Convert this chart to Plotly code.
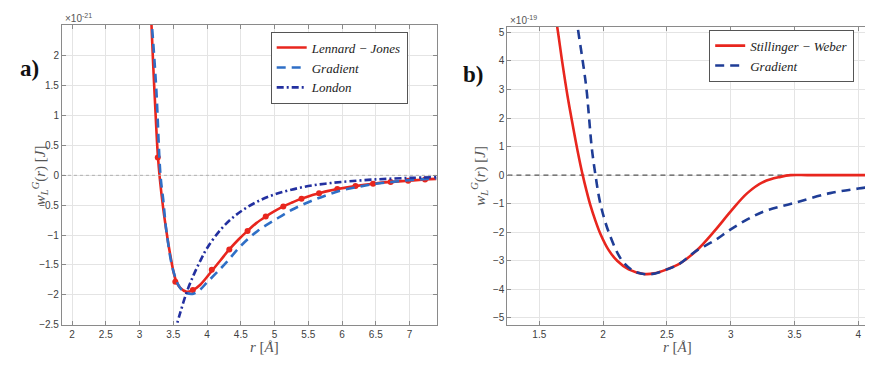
import plotly.graph_objects as go

# ---------------- Panel a) data (units of 1e-21 J) ----------------
lj_r = [3.17, 3.20, 3.23, 3.27, 3.30, 3.35, 3.40, 3.45, 3.53, 3.60, 3.70, 3.79, 3.90,
        4.07, 4.20, 4.33, 4.47, 4.60, 4.73, 4.87, 5.00, 5.13, 5.27, 5.40, 5.53, 5.66,
        5.80, 5.93, 6.20, 6.46, 6.72, 6.98, 7.23, 7.40]
lj_w = [2.70, 1.90, 1.20, 0.35, -0.05, -0.55, -0.95, -1.30, -1.73, -1.88, -1.95, -1.92, -1.83,
        -1.60, -1.42, -1.24, -1.07, -0.93, -0.80, -0.69, -0.60, -0.52, -0.45, -0.39, -0.34, -0.30,
        -0.26, -0.23, -0.18, -0.14, -0.11, -0.09, -0.07, -0.06]
ljm_r = [3.27, 3.53, 3.79, 4.07, 4.33, 4.60, 4.87, 5.13, 5.40, 5.66, 5.93, 6.20, 6.46, 6.72, 6.98, 7.23]
ljm_w = [0.30, -1.78, -1.92, -1.58, -1.24, -0.93, -0.69, -0.52, -0.39, -0.30, -0.23, -0.18, -0.14, -0.11, -0.09, -0.07]

gra_r = [3.17, 3.21, 3.25, 3.31, 3.35, 3.40, 3.50, 3.60, 3.70, 3.80, 3.90, 4.00, 4.15,
         4.30, 4.50, 4.75, 5.00, 5.25, 5.50, 5.75, 6.00, 6.25, 6.50, 6.75, 7.00, 7.40]
gra_w = [2.70, 2.10, 1.40, 0.00, -0.40, -0.95, -1.60, -1.88, -1.97, -1.98, -1.91, -1.79, -1.62,
         -1.44, -1.18, -0.93, -0.75, -0.58, -0.45, -0.34, -0.25, -0.19, -0.14, -0.11, -0.08, -0.05]

lon_r = [3.52, 3.60, 3.70, 3.80, 3.90, 4.00, 4.20, 4.40, 4.60, 4.80, 5.00, 5.25, 5.50,
         5.75, 6.00, 6.50, 7.00, 7.40]
lon_w = [-2.63, -2.31, -1.95, -1.67, -1.43, -1.22, -0.91, -0.69, -0.53, -0.41, -0.32, -0.24, -0.18,
         -0.14, -0.11, -0.068, -0.043, -0.031]

# ---------------- Panel b) data (units of 1e-19 J) ----------------
sw_r = [1.62, 1.64, 1.68, 1.72, 1.76, 1.80, 1.84, 1.87, 1.90, 1.94, 1.98, 2.04, 2.11, 2.20,
        2.32, 2.40, 2.50, 2.60, 2.73, 2.87, 3.00, 3.13, 3.26, 3.39, 3.47, 3.60, 3.80, 4.20]
sw_w = [5.70, 5.20, 3.95, 2.80, 1.80, 0.85, 0.00, -0.55, -1.05, -1.60, -2.07, -2.60, -3.00, -3.30,
        -3.46, -3.44, -3.30, -3.10, -2.65, -1.97, -1.27, -0.63, -0.23, -0.06, 0.00, 0.00, 0.00, 0.00]

gb_r = [1.79, 1.80, 1.84, 1.87, 1.89, 1.91, 1.94, 1.98, 2.05, 2.15, 2.25, 2.37, 2.50, 2.60,
        2.73, 2.87, 3.00, 3.13, 3.26, 3.50, 3.78, 4.00, 4.20]
gb_w = [5.60, 5.20, 4.00, 3.00, 2.00, 1.00, 0.00, -1.03, -2.07, -3.00, -3.38, -3.47, -3.30, -3.10,
        -2.65, -2.30, -1.90, -1.55, -1.27, -0.97, -0.63, -0.47, -0.36]

xa_ticks = [2, 2.5, 3, 3.5, 4, 4.5, 5, 5.5, 6, 6.5, 7]
ya_ticks = [-2.5, -2, -1.5, -1, -0.5, 0, 0.5, 1, 1.5, 2]
xb_ticks = [1.5, 2, 2.5, 3, 3.5, 4]
yb_ticks = [-5, -4, -3, -2, -1, 0, 1, 2, 3, 4, 5]

W, H = 873, 368
RED = "#e8261e"
BLUE_A = "#2f6fc6"
NAVY = "#2330a0"
BLUE_B = "#1f3d96"
SERIF = "Liberation Serif"
SANS = "Liberation Sans"

fig = go.Figure()

# panel a
fig.add_trace(go.Scatter(x=lj_r, y=lj_w, mode="lines", name="Lennard − Jones",
                         line=dict(color=RED, width=2.6), line_shape="spline",
                         xaxis="x", yaxis="y", legend="legend"))
fig.add_trace(go.Scatter(x=ljm_r, y=ljm_w, mode="markers", showlegend=False,
                         marker=dict(color=RED, size=6), xaxis="x", yaxis="y"))
fig.add_trace(go.Scatter(x=gra_r, y=gra_w, mode="lines", name="Gradient",
                         line=dict(color=BLUE_A, width=2.6, dash="9px,6px"), line_shape="spline",
                         xaxis="x", yaxis="y", legend="legend"))
fig.add_trace(go.Scatter(x=lon_r, y=lon_w, mode="lines", name="London",
                         line=dict(color=NAVY, width=2.6, dash="7px,3px,2px,3px"), line_shape="spline",
                         xaxis="x", yaxis="y", legend="legend"))
fig.add_trace(go.Scatter(x=[1.85, 7.4], y=[0, 0], mode="lines", showlegend=False,
                         line=dict(color="#b0b0b0", width=1, dash="dot"),
                         xaxis="x", yaxis="y"))

# panel b
fig.add_trace(go.Scatter(x=[1.25, 4.2], y=[0, 0], mode="lines", showlegend=False,
                         line=dict(color="#555555", width=1.3, dash="5px,4px"),
                         xaxis="x2", yaxis="y2"))
fig.add_trace(go.Scatter(x=sw_r, y=sw_w, mode="lines", name="Stillinger − Weber",
                         line=dict(color=RED, width=2.6), line_shape="spline",
                         xaxis="x2", yaxis="y2", legend="legend2"))
fig.add_trace(go.Scatter(x=gb_r, y=gb_w, mode="lines", name="Gradient",
                         line=dict(color=BLUE_B, width=2.6, dash="9px,6px"), line_shape="spline",
                         xaxis="x2", yaxis="y2", legend="legend2"))

axis_common = dict(showline=True, linecolor="#8a8a8a", linewidth=1, mirror="ticks",
                   ticks="inside", ticklen=4, tickcolor="#8a8a8a", showgrid=True,
                   gridcolor="#e4e4e4", gridwidth=1, zeroline=False,
                   tickfont=dict(family=SANS, size=10, color="#404040"))

legend_common = dict(xanchor="left", yanchor="top", bgcolor="white", bordercolor="#555",
                     borderwidth=1,
                     font=dict(family=SERIF, size=13, color="#222", style="italic"),
                     tracegroupgap=0, itemwidth=30)

fig.update_layout(
    width=W, height=H, margin=dict(l=0, r=0, t=0, b=0),
    paper_bgcolor="white", plot_bgcolor="white",
    xaxis=dict(domain=[54 / W, 429 / W], range=[1.85, 7.4], tickvals=xa_ticks,
               anchor="y", **axis_common),
    yaxis=dict(domain=[(H - 322) / H, (H - 17) / H], range=[-2.5, 2.52], tickvals=ya_ticks,
               anchor="x", **axis_common),
    xaxis2=dict(domain=[500 / W, 1.0], range=[1.25, 4.17], tickvals=xb_ticks,
                anchor="y2", **axis_common),
    yaxis2=dict(domain=[(H - 322) / H, (H - 19) / H], range=[-5.24, 5.2], tickvals=yb_ticks,
                anchor="x2", **axis_common),
    legend=dict(x=263 / W, y=1 - 24 / H, **legend_common),
    legend2=dict(x=702 / W, y=1 - 22 / H, **legend_common),
    showlegend=True,
)

ylab = "<i>w</i><sub><i>L</i></sub><sup><i>G</i></sup>(<i>r</i>) [<i>J</i>]"
ann = [
    dict(x=20 / W, y=1 - 170 / H, text=ylab, textangle=-90),
    dict(x=472 / W, y=1 - 170 / H, text=ylab, textangle=-90),
    dict(x=240 / W, y=1 - 355 / H, text="<i>r</i> [<i>Å</i>]"),
    dict(x=687 / W, y=1 - 355 / H, text="<i>r</i> [<i>Å</i>]"),
]
for a in ann:
    fig.add_annotation(xref="paper", yref="paper", showarrow=False,
                       font=dict(family=SERIF, size=15, color="#555"), **a)

fig.add_annotation(xref="paper", yref="paper", x=55 / W, y=1 - 10 / H, showarrow=False,
                   xanchor="left", yanchor="middle", text="×10<sup>-21</sup>",
                   font=dict(family=SANS, size=10, color="#555"))
fig.add_annotation(xref="paper", yref="paper", x=501 / W, y=1 - 12 / H, showarrow=False,
                   xanchor="left", yanchor="middle", text="×10<sup>-19</sup>",
                   font=dict(family=SANS, size=10, color="#555"))
fig.add_annotation(xref="paper", yref="paper", x=10 / W, y=1 - 62 / H, showarrow=False,
                   xanchor="left", yanchor="middle", text="a)",
                   font=dict(family=SERIF, size=23, color="#111", weight="bold"))
fig.add_annotation(xref="paper", yref="paper", x=454 / W, y=1 - 68 / H, showarrow=False,
                   xanchor="left", yanchor="middle", text="b)",
                   font=dict(family=SERIF, size=23, color="#111", weight="bold"))

fig.write_html("out.html")
